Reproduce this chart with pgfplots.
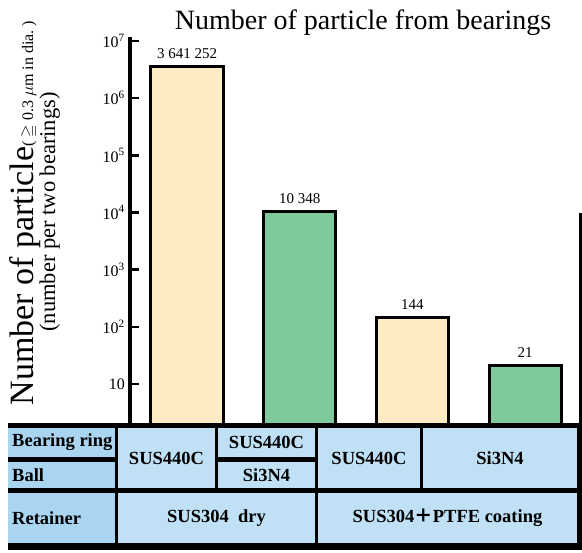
\documentclass[border=0pt]{standalone}
\usepackage{pgfplots}
\pgfplotsset{compat=1.18}
\usepackage{amssymb}
\usepackage{fontspec}
\setmainfont{Liberation Serif}
\newfontfamily\cjk{Noto Sans CJK JP}
\definecolor{baryel}{HTML}{FCEBC3}
\definecolor{bargrn}{HTML}{80C99C}
\definecolor{cellblue}{HTML}{C0E1F5}
\definecolor{headblue}{HTML}{A9D5F0}
\newcommand{\tblfont}{\rmfamily\bfseries\fontsize{18.5}{22}\selectfont}
\begin{document}
\begin{tikzpicture}[x=1pt,y=1pt]
\path[use as bounding box] (0,0) rectangle (582,553);
% title
\node[anchor=base, font=\rmfamily\fontsize{28}{32}\selectfont, inner sep=0pt] at (363,523) {Number of particle from bearings};
% y label
\node[rotate=90, anchor=base, inner sep=0pt, font=\rmfamily\fontsize{34}{38}\selectfont] at (33,340) {Number of particle{\fontsize{16}{19}\selectfont( $\geqq$ 0.3 $\mu$m in dia.\ )}};
\node[rotate=90, anchor=base, inner sep=0pt, font=\rmfamily\fontsize{22.5}{25}\selectfont] at (55,341) {(number per two bearings)};
\begin{axis}[
  at={(130pt,128pt)}, anchor=south west,
  scale only axis, width=448pt, height=388pt,
  xmin=-0.506, xmax=3.469,
  ymode=log, ymin=1.923, ymax=1.175e7,
  axis y line*=left, axis x line=none,
  y axis line style={line width=3.5pt},
  xtick=\empty, xmajorticks=false,
  ytick={10,100,1000,10000,100000,1000000,10000000},
  yticklabels={10,10\textsuperscript{2},10\textsuperscript{3},10\textsuperscript{4},10\textsuperscript{5},10\textsuperscript{6},10\textsuperscript{7}},
  yminorticks=false,
  tick align=inside,
  major tick length=9pt,
  ytick style={line width=2.5pt, black},
  yticklabel style={font=\rmfamily\fontsize{16}{18}\selectfont, inner sep=0pt, xshift=-5pt},
  point meta=explicit symbolic,
  nodes near coords,
  every node near coord/.append style={font=\rmfamily\fontsize{15}{18}\selectfont, anchor=south, yshift=3pt, black},
]
\addplot[ybar, bar shift=0pt, bar width=0.64, fill=baryel, draw=black, line width=3pt]
  coordinates {(0,3641252) [3 641 252] (2,144) [144]};
\addplot[ybar, bar shift=0pt, bar width=0.64, fill=bargrn, draw=black, line width=3pt]
  coordinates {(1,10348) [10 348] (3,21) [21]};
\end{axis}
% right vertical line
\draw[line width=3pt] (580,340) -- (580,128);
% table
\fill[black] (8,3) rectangle (582,130);
\fill[headblue] (8,96) rectangle (115,125);
\fill[headblue] (8,65) rectangle (115,91);
\fill[headblue] (8,10) rectangle (115,60);
\fill[cellblue] (118,65) rectangle (215,125);
\fill[cellblue] (218,96) rectangle (315,125);
\fill[cellblue] (218,65) rectangle (315,91);
\fill[cellblue] (318,65) rectangle (420,125);
\fill[cellblue] (423,65) rectangle (577,125);
\fill[cellblue] (118,10) rectangle (315,60);
\fill[cellblue] (318,10) rectangle (577,60);
\node[anchor=west, font=\tblfont, inner sep=0pt] at (12,110.5) {Bearing ring};
\node[anchor=west, font=\tblfont, inner sep=0pt] at (12,78) {Ball};
\node[anchor=west, font=\tblfont, inner sep=0pt] at (12,35) {Retainer};
\node[font=\tblfont, inner sep=0pt] at (166.5,95) {SUS440C};
\node[font=\tblfont, inner sep=0pt] at (266.5,110.5) {SUS440C};
\node[font=\tblfont, inner sep=0pt] at (266.5,78) {Si3N4};
\node[font=\tblfont, inner sep=0pt] at (369,95) {SUS440C};
\node[font=\tblfont, inner sep=0pt] at (500,95) {Si3N4};
\node[font=\tblfont, inner sep=0pt] at (216.5,35) {SUS304\ \ dry};
\node[font=\tblfont, inner sep=0pt] at (447.5,35) {SUS304{\cjk ＋}PTFE coating};
\end{tikzpicture}
\end{document}
